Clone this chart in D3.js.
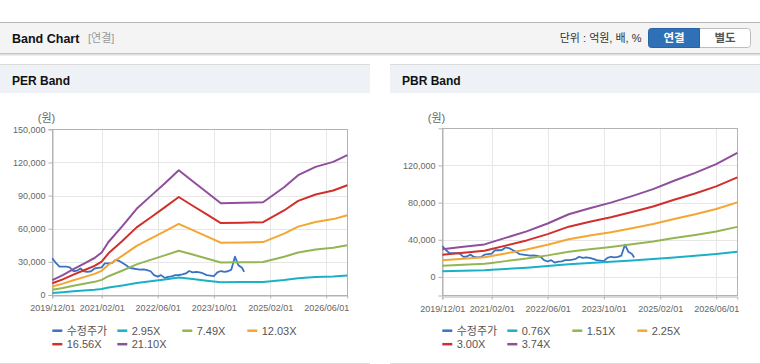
<!DOCTYPE html>
<html><head><meta charset="utf-8">
<script src="https://cdn.jsdelivr.net/npm/d3@7"></script>
<style>
body{margin:0;background:#fff}
svg{display:block;font-family:"Liberation Sans",Arial,"Noto Sans CJK KR",sans-serif}
</style></head>
<body><svg id="c" width="760" height="364"></svg>
<script>
// ---------- data ----------
const xTickLabels = ["2019-12-01","2021-02-01","2022-06-01","2023-10-01","2025-02-01","2026-06-01"];
const xDomain = ["2019-12-01","2026-12-01"];

const priceDates = ["2019-12-01","2020-01-01","2020-02-01","2020-03-01","2020-04-01","2020-05-01","2020-06-01","2020-07-01","2020-08-01","2020-09-01","2020-10-01","2020-11-01","2020-12-01",
"2021-01-01","2021-02-01","2021-03-01","2021-04-01","2021-05-01","2021-06-01","2021-07-01","2021-08-01","2021-09-01","2021-10-01","2021-11-01","2021-12-01",
"2022-01-01","2022-02-01","2022-03-01","2022-04-01","2022-05-01","2022-06-01","2022-07-01","2022-08-01","2022-09-01","2022-10-01","2022-11-01","2022-12-01",
"2023-01-01","2023-02-01","2023-03-01","2023-04-01","2023-05-01","2023-06-01","2023-07-01","2023-08-01","2023-09-01","2023-10-01","2023-11-01","2023-12-01",
"2024-01-01","2024-02-01","2024-03-01","2024-04-01","2024-05-01","2024-06-01","2024-06-20"];
const priceValues = [33200,29000,25600,25600,25600,25000,21500,22000,24000,21500,21000,21500,24000,
24500,25000,28700,28700,29000,31700,31000,29000,27000,24500,24000,23500,
23000,23200,22600,21500,18000,16600,18000,15500,16500,16800,18000,18100,
18600,19500,21700,20500,21000,20500,19500,18000,17500,17000,20500,21700,
21000,21500,23000,34700,27000,24700,21000];

const perDates = ["2019-12-01","2020-03-01","2020-06-01","2020-09-01","2020-12-01","2021-02-01","2021-04-01","2021-08-01","2021-12-01","2022-04-01","2022-08-01","2022-12-01","2023-04-01","2023-08-01","2023-12-01","2024-06-01","2024-12-01","2025-06-01","2025-10-01","2026-03-01","2026-08-01","2026-12-01"];
const per2_95  = [1900,2500,3300,4000,4700,5400,6700,8700,10900,12500,14100,15800,14400,13000,11600,11700,11700,13600,15200,16200,16800,17700];
const per7_49  = [4800,6400,8300,10100,11900,13700,17000,22200,27700,31800,35900,40100,36600,33000,29500,29600,29800,34600,38500,41200,42800,45000];
const per12_03 = [7700,10300,13400,16200,19100,21900,27400,35600,44500,51000,57600,64400,58700,53000,47300,47600,47900,55600,61900,66100,68700,72200];
const per16_56 = [10600,14100,18400,22400,26300,30200,37700,49100,61200,70200,79300,88700,80800,73000,65100,65500,65900,76500,85200,91000,94600,99400];
const per21_10 = [13500,18000,23500,28500,33500,38500,48000,62500,78000,89500,101000,113000,103000,93000,83000,83500,84000,97500,108500,116000,120500,126700];
const perYTicks = [0,30000,60000,90000,120000,150000];
const perLabels = ["수정주가","2.95X","7.49X","12.03X","16.56X","21.10X"];

const pbrDates = ["2019-12-01","2020-06-01","2020-12-01","2021-02-01","2021-06-01","2021-12-01","2022-06-01","2022-12-01","2023-06-01","2023-12-01","2024-06-01","2024-12-01","2025-06-01","2025-12-01","2026-06-01","2026-12-01"];
const pbr0_76 = [6100,6600,7100,7600,8500,10000,11700,13700,15000,16300,17700,19200,21000,22800,24700,27100];
const pbr1_51 = [12000,13100,14100,15100,17000,19800,23200,27200,29900,32300,35100,38100,41800,45200,49000,53900];
const pbr2_25 = [17900,19600,21100,22600,25300,29500,34600,40600,44500,48100,52300,56900,62300,67400,73100,80300];
const pbr3_00 = [23900,26100,28100,30100,33700,39300,46100,54100,59400,64200,69800,75800,83000,89800,97500,107100];
const pbr3_74 = [29800,32500,35000,37500,42000,49000,57500,67500,74000,80000,87000,94500,103500,112000,121500,133500];
const pbrYTicks = [0,40000,80000,120000];
const pbrLabels = ["수정주가","0.76X","1.51X","2.25X","3.00X","3.74X"];

const colors = ["#3a72c2","#1cb0c6","#93b653","#f5a632","#d12f2b","#8e4f9b"];

// ---------- drawing ----------
const svg = d3.select("#c");
const parse = d3.timeParse("%Y-%m-%d");

// top header
svg.append("line").attr("x1",0).attr("x2",760).attr("y1",22.5).attr("y2",22.5).attr("stroke","#b8b8b8");
svg.append("rect").attr("x",0).attr("y",23).attr("width",760).attr("height",30).attr("fill","#f4f4f4");
[["#c6c6c6",53.5],["#dedede",54.5],["#efefef",55.5]].forEach(([c,yy])=>
  svg.append("line").attr("x1",0).attr("x2",760).attr("y1",yy).attr("y2",yy).attr("stroke",c));
svg.append("text").attr("x",12).attr("y",42.5).attr("font-size",12.5).attr("font-weight","bold").attr("fill","#111").text("Band Chart");
svg.append("text").attr("x",88).attr("y",42).attr("font-size",11).attr("fill","#999").text("[연결]");
svg.append("text").attr("x",641.5).attr("y",42).attr("text-anchor","end").attr("font-size",11).attr("fill","#333").text("단위 : 억원, 배, %");
// buttons
svg.append("rect").attr("x",648.5).attr("y",28.5).attr("width",102).attr("height",19).attr("rx",3).attr("fill","#fff").attr("stroke","#bdbdbd");
svg.append("path").attr("d","M699.5,28.5 L651.5,28.5 Q648.5,28.5 648.5,31.5 L648.5,44.5 Q648.5,47.5 651.5,47.5 L699.5,47.5 Z").attr("fill","#3070b6").attr("stroke","#2a63a3");
svg.append("text").attr("x",674).attr("y",42).attr("text-anchor","middle").attr("font-size",11.5).attr("font-weight","bold").attr("fill","#fff").text("연결");
svg.append("text").attr("x",725).attr("y",42).attr("text-anchor","middle").attr("font-size",11.5).attr("font-weight","bold").attr("fill","#555").text("별도");

function drawPanel(ox, w, title, yDomain, yRange, yTicks, dates, bands, labels){
  const g = svg.append("g");
  g.append("line").attr("x1",ox).attr("x2",ox+w).attr("y1",64.5).attr("y2",64.5).attr("stroke","#dcdcdc");
  g.append("rect").attr("x",ox).attr("y",65).attr("width",w).attr("height",28).attr("fill","#eef2f7");
  g.append("text").attr("x",ox+12).attr("y",84.5).attr("font-size",12).attr("font-weight","bold").attr("fill","#111").text(title);
  g.append("line").attr("x1",ox).attr("x2",ox+w).attr("y1",363.5).attr("y2",363.5).attr("stroke","#dcdcdc");

  const x = d3.scaleTime().domain(xDomain.map(parse)).range([ox+52.3, ox+347.3]);
  const y = d3.scaleLinear().domain(yDomain).range(yRange);
  const [x0,x1] = x.range(); const [yb,yt] = y.range();

  g.append("rect").attr("x",x0).attr("y",yt).attr("width",x1-x0).attr("height",yb-yt).attr("fill","#fff");
  // grid
  g.append("g").selectAll("line").data(xTickLabels.slice(1)).join("line")
    .attr("x1",d=>Math.round(x(parse(d)))+0.5).attr("x2",d=>Math.round(x(parse(d)))+0.5)
    .attr("y1",yt).attr("y2",yb).attr("stroke","#e6e6e6");
  g.append("g").selectAll("line").data(yTicks).join("line")
    .attr("x1",x0).attr("x2",x1).attr("y1",d=>Math.round(y(d))+0.5).attr("y2",d=>Math.round(y(d))+0.5).attr("stroke","#e6e6e6");
  g.append("rect").attr("x",Math.round(x0)+0.5).attr("y",Math.round(yt)+0.5).attr("width",Math.round(x1-x0)).attr("height",Math.round(yb-yt))
    .attr("fill","none").attr("stroke","#b3b3b3");

  // axes
  const ya = g.append("g").attr("transform",`translate(${Math.round(x0)+0.5},0)`)
    .call(d3.axisLeft(y).tickValues(yTicks).tickFormat(d3.format(",")).tickSize(4).tickPadding(3));
  const xa = g.append("g").attr("transform",`translate(0,${Math.round(yb)+0.5})`)
    .call(d3.axisBottom(x).tickValues(xTickLabels.map(parse)).tickFormat(d3.timeFormat("%Y/%m/%d")).tickSize(3).tickPadding(6));
  [ya,xa].forEach(a=>{
    a.select(".domain").attr("stroke","#b3b3b3");
    a.selectAll(".tick line").attr("stroke","#b3b3b3");
    a.selectAll("text").attr("fill","#666").attr("font-size",9).attr("font-family","Liberation Sans, Arial, sans-serif");
  });
  g.append("text").attr("x",ox+46.5).attr("y",122).attr("text-anchor","middle").attr("font-size",11).attr("fill","#666").text("(원)");

  // lines
  const line = d3.line().x(d=>x(d[0])).y(d=>y(d[1]));
  const price = priceDates.map((d,i)=>[parse(d),priceValues[i]]);
  g.append("path").datum(price).attr("d",line).attr("fill","none").attr("stroke",colors[0]).attr("stroke-width",1.8).attr("stroke-linejoin","round");
  bands.forEach((vals,k)=>{
    const pts = dates.map((d,i)=>[parse(d),vals[i]]);
    g.append("path").datum(pts).attr("d",line).attr("fill","none").attr("stroke",colors[k+1]).attr("stroke-width",2).attr("stroke-linejoin","round");
  });

  // legend
  labels.forEach((lab,i)=>{
    const col = i%4, row = Math.floor(i/4);
    const lx = ox+52.3+col*65, ly = 330.7+row*13.5;
    g.append("line").attr("x1",lx).attr("x2",lx+10).attr("y1",ly).attr("y2",ly).attr("stroke",colors[i]).attr("stroke-width",2.5);
    g.append("text").attr("x",lx+14.4).attr("y",ly+4).attr("font-size",11).attr("fill","#555").text(lab);
  });
}

drawPanel(0,370,"PER Band",[0,150000],[295,129.3],perYTicks,perDates,[per2_95,per7_49,per12_03,per16_56,per21_10],perLabels);
drawPanel(390,370,"PBR Band",[-20000,160000],[295.5,128.3],pbrYTicks,pbrDates,[pbr0_76,pbr1_51,pbr2_25,pbr3_00,pbr3_74],pbrLabels);
</script></body></html>
